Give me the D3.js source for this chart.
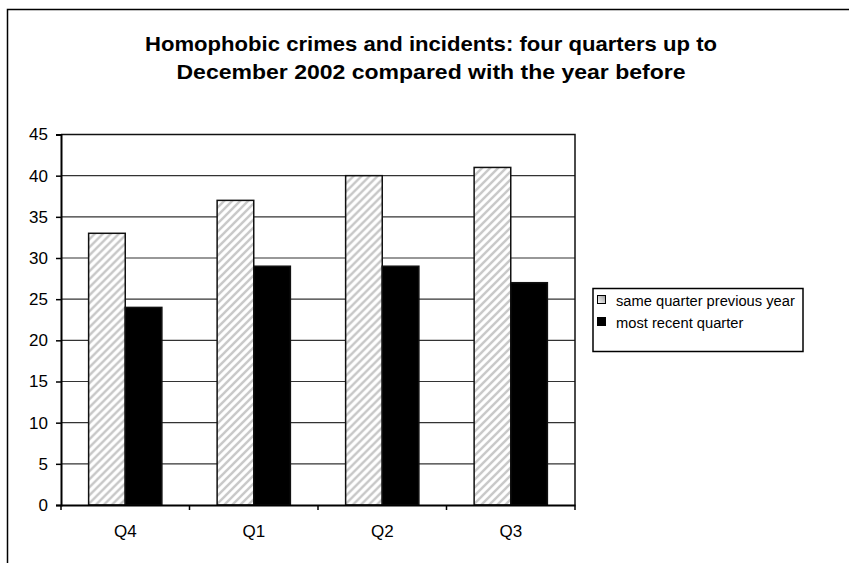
<!DOCTYPE html>
<html><head><meta charset="utf-8">
<script src="https://cdn.jsdelivr.net/npm/d3@7"></script>
<style>body{margin:0;background:#fff}svg{display:block;font-family:Arial,"Liberation Sans",sans-serif}</style>
</head><body>
<svg id="c" width="849" height="563"></svg>
<script>
const categories = ["Q4", "Q1", "Q2", "Q3"];
const seriesNames = ["same quarter previous year", "most recent quarter"];
const previousYear = [33, 37, 40, 41];
const recentQuarter = [24, 29, 29, 27];
const yTicks = [0, 5, 10, 15, 20, 25, 30, 35, 40, 45];
const titleLines = ["Homophobic crimes and incidents: four quarters up to", "December 2002 compared with the year before"];

(function () {
const svg = d3.select("#c");
const defs = svg.append("defs");
const pat = defs.append("pattern").attr("id", "hatch").attr("patternUnits", "userSpaceOnUse")
  .attr("width", 8).attr("height", 8);
pat.append("rect").attr("width", 8).attr("height", 8).attr("fill", "#fff");
pat.append("path").attr("d", "M-2,2 L2,-2 M0,8 L8,0 M6,10 L10,6").attr("stroke", "#c8c8c8").attr("stroke-width", 2.4);

// outer frame
svg.append("rect").attr("x", 7.5).attr("y", 9.5).attr("width", 900).attr("height", 600)
  .attr("fill", "none").attr("stroke", "#000").attr("stroke-width", 1.5);

// title
const tW = [572, 509];
svg.append("g").selectAll("text").data(titleLines).join("text")
  .attr("x", 431).attr("y", (d, i) => 51 + i * 28).attr("text-anchor", "middle")
  .style("font-size", "21px").attr("font-weight", "bold")
  .attr("textLength", (d, i) => tW[i]).attr("lengthAdjust", "spacingAndGlyphs")
  .text(d => d);

const pl = 61, pr = 575, pt = 134.5, pb = 505;
const y = d3.scaleLinear().domain([0, 45]).range([pb, pt]);
const x0 = d3.scaleBand().domain(categories).range([pl, pr]).paddingInner(0.43).paddingOuter(0.215);
const x1 = d3.scaleBand().domain([0, 1]).range([0, x0.bandwidth()]);

// gridlines
svg.append("g").selectAll("line").data(yTicks.filter(t => t > 0 && t < 45)).join("line")
  .attr("x1", pl).attr("x2", pr).attr("y1", d => y(d)).attr("y2", d => y(d))
  .attr("stroke", "#333").attr("stroke-width", 1.2);

// plot border top/right
svg.append("path").attr("d", `M${pl},${pt}H${pr}V${pb}`).attr("fill", "none")
  .attr("stroke", "#111").attr("stroke-width", 1.5);

// bars
const data = categories.map((c, i) => ({c, v: [previousYear[i], recentQuarter[i]]}));
const g = svg.append("g").selectAll("g").data(data).join("g")
  .attr("transform", d => `translate(${x0(d.c)},0)`);
g.selectAll("rect").data(d => d.v.map((v, k) => ({v, k}))).join("rect")
  .attr("x", d => x1(d.k)).attr("width", x1.bandwidth())
  .attr("y", d => y(d.v)).attr("height", d => pb - y(d.v))
  .attr("fill", d => d.k === 0 ? "url(#hatch)" : "#000")
  .attr("stroke", "#111").attr("stroke-width", 1.5);

// y axis
const ya = svg.append("g").attr("transform", `translate(${pl},0)`)
  .call(d3.axisLeft(y).tickValues(yTicks).tickSize(5).tickPadding(8));
ya.attr("font-size", null).attr("font-family", null);
ya.select(".domain").attr("stroke", "#000").attr("stroke-width", 2);
ya.selectAll(".tick line").attr("stroke", "#000").attr("stroke-width", 1.5);
ya.selectAll("text").style("font-size", "17px").attr("fill", "#000");

// x axis
const xa = svg.append("g").attr("transform", `translate(0,${pb})`)
  .call(d3.axisBottom(x0).tickSize(0).tickPadding(20));
xa.attr("font-size", null).attr("font-family", null);
xa.select(".domain").attr("stroke", "#000").attr("stroke-width", 2);
xa.selectAll("text").style("font-size", "17px").attr("fill", "#000");
const step = (pr - pl) / categories.length;
svg.append("g").selectAll("line").data(d3.range(categories.length + 1)).join("line")
  .attr("x1", i => pl + i * step).attr("x2", i => pl + i * step)
  .attr("y1", pb).attr("y2", pb + 5).attr("stroke", "#000").attr("stroke-width", 1.5);

// legend
const lg = svg.append("g");
lg.append("rect").attr("x", 593).attr("y", 288.5).attr("width", 210).attr("height", 63)
  .attr("fill", "#fff").attr("stroke", "#000").attr("stroke-width", 1.5);
const grad = defs.append("linearGradient").attr("id", "lgrad").attr("x1", 0).attr("y1", 1).attr("x2", 1).attr("y2", 0);
grad.append("stop").attr("offset", 0).attr("stop-color", "#fff");
grad.append("stop").attr("offset", 1).attr("stop-color", "#999");
seriesNames.forEach((s, i) => {
  const cy = 300 + i * 22;
  lg.append("rect").attr("x", 597.5).attr("y", cy - 4.5).attr("width", 8).attr("height", 8)
    .attr("fill", i === 0 ? "url(#lgrad)" : "#000").attr("stroke", "#000").attr("stroke-width", 1);
  lg.append("text").attr("x", 616).attr("y", cy + 5.5).style("font-size", "14.7px").text(s);
});
})();
</script>
</body></html>
